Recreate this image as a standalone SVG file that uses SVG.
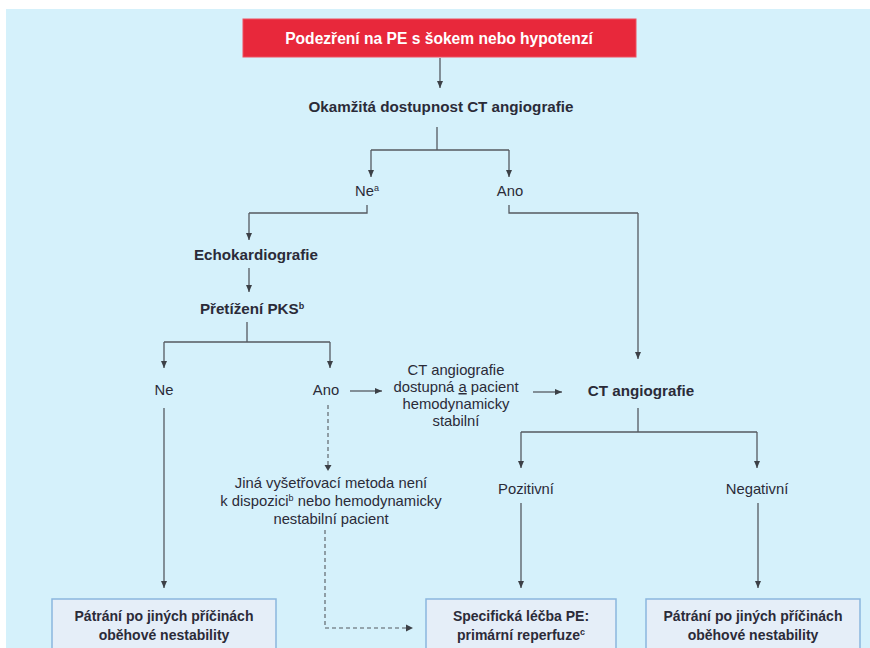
<svg xmlns="http://www.w3.org/2000/svg" width="870" height="648" viewBox="0 0 870 648">
<style>
text{font-family:"Liberation Sans",Arial,sans-serif;fill:#2b2b38;text-anchor:middle;font-size:14.8px}
.b{font-weight:bold;font-size:15.2px}
.bx{font-weight:bold;font-size:14px}
.t{fill:#ffffff;font-weight:bold;font-size:15.6px}
.ln{stroke:#555a60;stroke-width:1.3;fill:none}
.ar{stroke:#555a60;stroke-width:1.3;fill:none;marker-end:url(#ah)}
.da{stroke:#555a60;stroke-width:1.1;fill:none;stroke-dasharray:4 3}
.box{fill:#e5eef8;stroke:#8ab6de;stroke-width:1.5}
.sup{font-size:9px}
</style>
<defs>
<marker id="ah" markerWidth="8" markerHeight="8" refX="7" refY="4" orient="auto" markerUnits="userSpaceOnUse">
<path d="M0,1 L7,4 L0,7 Z" fill="#3c4046"/>
</marker>
</defs>
<rect x="0" y="0" width="870" height="648" fill="#ffffff"/>
<rect x="6" y="9" width="864" height="639" fill="#d5f1fb"/>

<g id="connectors">
<path class="ar" d="M440,58 V88"/>
<path class="ln" d="M437,127 V150 M371,150 H509"/>
<path class="ar" d="M371,150 V177"/>
<path class="ar" d="M509,150 V177"/>
<path class="ln" d="M367,205 V213 H249"/>
<path class="ar" d="M249,213 V240"/>
<path class="ln" d="M509,205 V213 H638"/>
<path class="ar" d="M638,213 V359"/>
<path class="ar" d="M249,268 V292"/>
<path class="ln" d="M247,322 V342 M164,342 H330"/>
<path class="ar" d="M164,342 V368"/>
<path class="ar" d="M330,342 V368"/>
<path class="ar" d="M350,391 H382"/>
<path class="ar" d="M533,392 H562"/>
<path class="ln" d="M638,408 V432 M521,432 H757"/>
<path class="ar" d="M521,432 V468"/>
<path class="ar" d="M757,432 V468"/>
<path class="ar" d="M521,503 V588"/>
<path class="ar" d="M758,503 V588"/>
<path class="ar" d="M164,408 V588"/>
<path class="da" d="M328,405 V467"/>
<path d="M324.5,465 L331.5,465 L328,471 Z" fill="#3c4046"/>
<path class="da" d="M325,530 V628 H408"/>
<path d="M406,624.5 L413,628 L406,631.5 Z" fill="#3c4046"/>
</g>

<g id="start">
<rect x="243" y="19" width="393" height="38" fill="#e8283b" stroke="#f05060" stroke-width="1"/>
<text class="t" x="439" y="44">Podezření na PE s šokem nebo hypotenzí</text>
</g>
<g id="ct-availability"><text class="b" x="441" y="112">Okamžitá dostupnost CT angiografie</text></g>
<g id="ne1"><text x="367" y="196">Ne<tspan class="sup" dy="-5">a</tspan></text></g>
<g id="ano1"><text x="510" y="196">Ano</text></g>
<g id="echo"><text class="b" x="256" y="260">Echokardiografie</text></g>
<g id="pks"><text class="b" x="252" y="314">Přetížení PKS<tspan class="sup" dy="-5">b</tspan></text></g>
<g id="ne2"><text x="164" y="395">Ne</text></g>
<g id="ano2"><text x="326" y="395">Ano</text></g>
<g id="ct-stable">
<text x="456" y="375">CT angiografie</text>
<text x="456" y="392">dostupná <tspan text-decoration="underline">a</tspan> pacient</text>
<text x="456" y="409">hemodynamicky</text>
<text x="456" y="426">stabilní</text>
</g>
<g id="ct"><text class="b" x="641" y="396">CT angiografie</text></g>
<g id="pozitivni"><text x="526" y="494">Pozitivní</text></g>
<g id="negativni"><text x="757" y="494">Negativní</text></g>
<g id="other-method">
<text x="331" y="488">Jiná vyšetřovací metoda není</text>
<text x="331" y="506">k dispozici<tspan class="sup" dy="-5">b</tspan><tspan dy="5"> nebo hemodynamicky</tspan></text>
<text x="331" y="524">nestabilní pacient</text>
</g>
<g id="box-left">
<rect class="box" x="52" y="599" width="224" height="60"/>
<text class="bx" x="164" y="621">Pátrání po jiných příčinách</text>
<text class="bx" x="164" y="640">oběhové nestability</text>
</g>
<g id="box-mid">
<rect class="box" x="426" y="599" width="190" height="60"/>
<text class="bx" x="521" y="621">Specifická léčba PE:</text>
<text class="bx" x="521" y="640">primární reperfuze<tspan class="sup" dy="-5">c</tspan></text>
</g>
<g id="box-right">
<rect class="box" x="646" y="599" width="214" height="60"/>
<text class="bx" x="753" y="621">Pátrání po jiných příčinách</text>
<text class="bx" x="753" y="640">oběhové nestability</text>
</g>
</svg>
